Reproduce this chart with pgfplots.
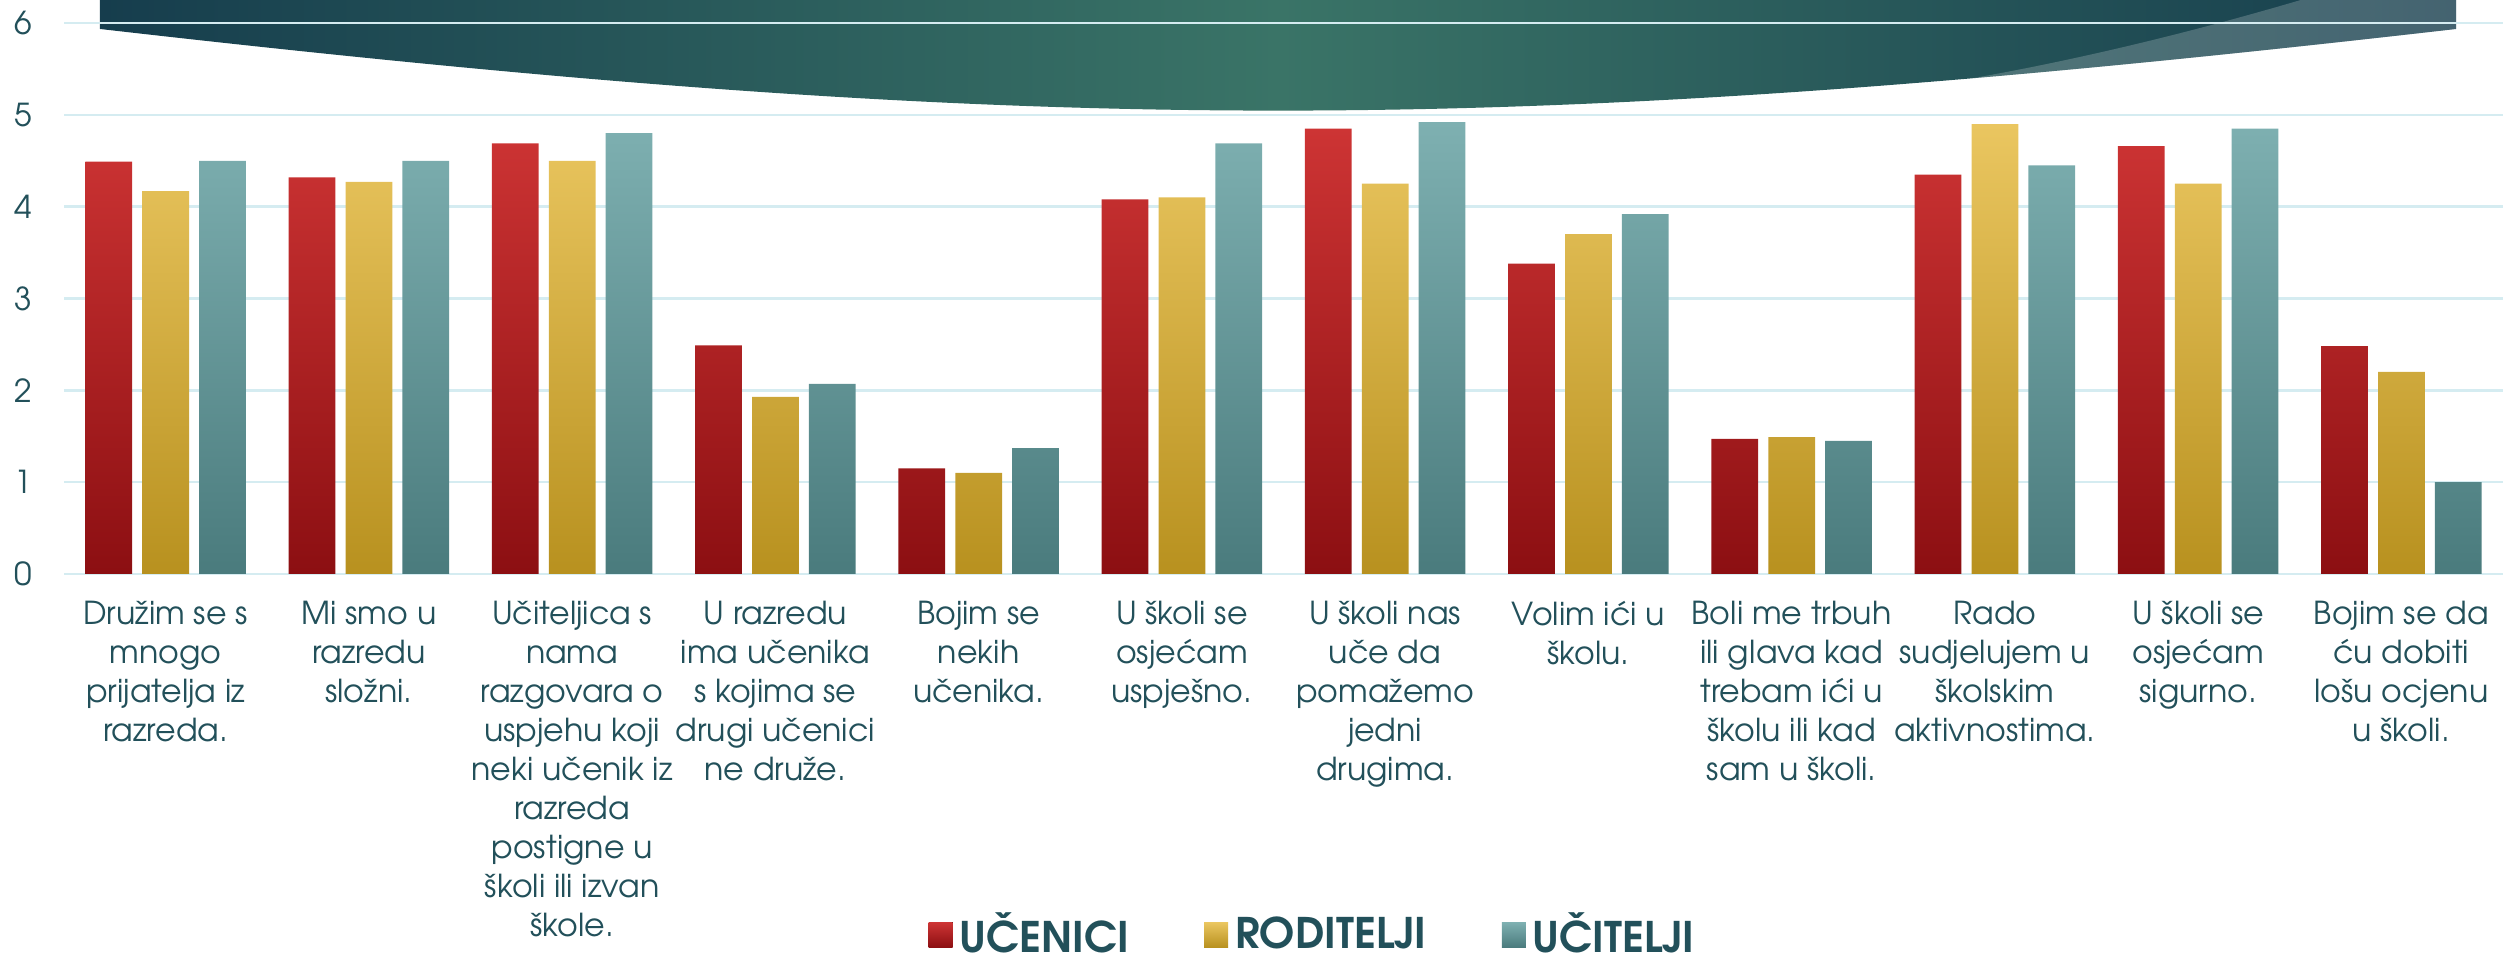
\documentclass[border=0pt]{standalone}
\usepackage{pgfplots}
\pgfplotsset{compat=1.18}
\usepackage{fontspec}
\setmainfont{TeX Gyre Adventor}
\definecolor{txt}{HTML}{22505A}
\definecolor{gridc}{HTML}{D5ECF1}
\definecolor{redT}{HTML}{CD3434}
\definecolor{redB}{HTML}{8C0F12}
\definecolor{golT}{HTML}{EAC660}
\definecolor{golB}{HTML}{B8911F}
\definecolor{tealT}{HTML}{7EB0B1}
\definecolor{tealB}{HTML}{4A7B7D}
\definecolor{banD}{HTML}{163D4D}
\definecolor{banM}{HTML}{3A7467}

\pgfplotsset{
  sqlegend/.style={legend image code/.code={
      \fill[##1] (0cm,-0.125cm) rectangle (0.24cm,0.125cm);}},
}

\begin{document}
\begin{tikzpicture}
\begin{axis}[name=ax, scale only axis, width=24.39cm, height=5.51cm,
  xmin=-0.5, xmax=11.5, ymin=0, ymax=6,
  ytick={0,...,6}, xtick={0,...,11},
  xticklabels={
    {Družim se s\\mnogo\\prijatelja iz\\razreda.},
    {Mi smo u\\razredu\\složni.},
    {Učiteljica s\\nama\\razgovara o\\uspjehu koji\\neki učenik iz\\razreda\\postigne u\\školi ili izvan\\škole.},
    {U razredu\\ima učenika\\s kojima se\\drugi učenici\\ne druže.},
    {Bojim se\\nekih\\učenika.},
    {U školi se\\osjećam\\uspješno.},
    {U školi nas\\uče da\\pomažemo\\jedni\\drugima.},
    {Volim ići u\\školu.},
    {Boli me trbuh\\ili glava kad\\trebam ići u\\školu ili kad\\sam u školi.},
    {Rado\\sudjelujem u\\školskim\\aktivnostima.},
    {U školi se\\osjećam\\sigurno.},
    {Bojim se da\\ću dobiti\\lošu ocjenu\\u školi.}},
  ymajorgrids, grid style={draw=gridc, line width=0.7pt},
  axis line style={draw=none}, major tick length=0pt,
  tick label style={font=\fontsize{9}{11.1}\selectfont, text=txt},
  xticklabel style={align=center, anchor=north, yshift=-1.5mm},
  yticklabel style={xshift=-2mm},
  /pgf/number format/assume math mode=true,
  clip=false,
  legend columns=3,
  legend style={at={(0.513,-0.655)}, anchor=center, draw=none, fill=none,
    font=\bfseries\fontsize{12}{14}\selectfont, text=txt,
    /tikz/every even column/.append style={column sep=6.8mm}},
]
% banner
\shade[left color=banD, right color=banD, middle color=banM]
  (-0.323,6.3) -- (-0.323,5.935) .. controls (4.351,4.75) and (6.595,4.75) .. (11.269,5.935)
  -- (11.269,6.3) -- cycle;
\begin{scope}
\clip (-0.323,6.3) -- (-0.323,5.935) .. controls (4.351,4.75) and (6.595,4.75) .. (11.269,5.935)
  -- (11.269,6.3) -- cycle;
\fill[white, opacity=0.2] (10.58,6.3) .. controls (9.9,5.85) and (9.0,5.35) .. (8.08,5.15)
  -- (8.08,4.9) -- (11.5,4.9) -- (11.5,6.3) -- cycle;
\end{scope}
\draw[gridc, line width=0.7pt] (-0.5,6) -- (11.5,6);

\addplot[ybar, bar width=0.23, bar shift=-0.28, draw=none, top color=redT, bottom color=redB, sqlegend]
  coordinates {(0,4.49) (1,4.32) (2,4.69) (3,2.49) (4,1.15) (5,4.08) (6,4.85) (7,3.38) (8,1.47) (9,4.35) (10,4.66) (11,2.48)};
\addplot[ybar, bar width=0.23, bar shift=0, draw=none, top color=golT, bottom color=golB, sqlegend]
  coordinates {(0,4.17) (1,4.27) (2,4.50) (3,1.93) (4,1.10) (5,4.10) (6,4.25) (7,3.70) (8,1.49) (9,4.90) (10,4.25) (11,2.20)};
\addplot[ybar, bar width=0.23, bar shift=0.28, draw=none, top color=tealT, bottom color=tealB, sqlegend]
  coordinates {(0,4.50) (1,4.50) (2,4.80) (3,2.07) (4,1.37) (5,4.69) (6,4.92) (7,3.92) (8,1.45) (9,4.45) (10,4.85) (11,1.00)};
\legend{UČENICI, RODITELJI, UČITELJI}
\end{axis}
\pgfresetboundingbox
\path ([xshift=-0.64cm,yshift=-3.89cm]ax.south west) rectangle ([yshift=0.23cm]ax.north east);
\end{tikzpicture}
\end{document}
